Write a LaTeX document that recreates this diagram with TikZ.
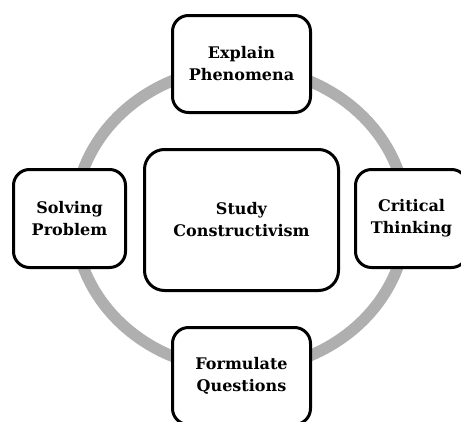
\documentclass[tikz,border=0pt]{standalone}
\usepackage{fontspec}
\setmainfont{DejaVu Serif}
\tikzset{
	box/.style={draw, line width=3pt, rounded corners=16pt, fill=white, align=center, inner sep=0pt, font=\fontsize{16}{22}\selectfont\bfseries},
	ring/.style={draw=ringgray, line width=11.5pt}
}
\definecolor{ringgray}{HTML}{AFAFAF}
\begin{document}
\begin{tikzpicture}[x=1pt,y=-1pt]
		\useasboundingbox (0,0) rectangle (461,421);
		\draw[ring] (240.5,218.5) ellipse (166 and 151);
		\node[box, minimum width=138pt, minimum height=97pt](explain) at (241.5,64) {Explain\\Phenomena};
		\node[box, minimum width=138pt, minimum height=97pt](formulate) at (241.5,376) {Formulate\\Questions};
		\node[box, minimum width=112pt, minimum height=98pt](solving) at (69.5,218.5) {Solving\\Problem};
		\node[box, minimum width=112pt, minimum height=98pt](critical) at (411.5,218.5) {Critical\\Thinking};
		\node[box, minimum width=194pt, minimum height=141pt, rounded corners=20pt](study) at (241.5,220) {Study\\Constructivism};
	\end{tikzpicture}
\end{document}
